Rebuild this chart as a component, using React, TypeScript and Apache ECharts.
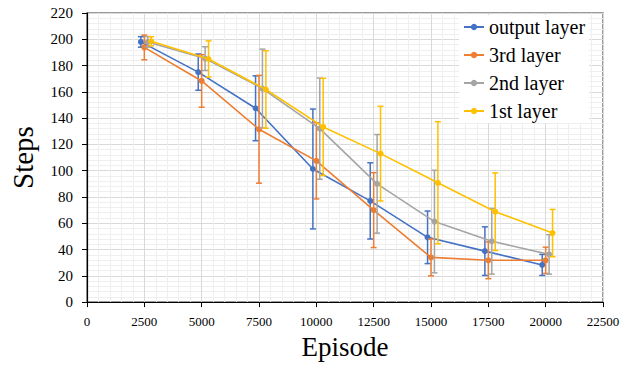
import React, { useEffect, useRef } from "react";
import * as echarts from "echarts";

const seriesNames = ["output layer", "3rd layer", "2nd layer", "1st layer"];
const colors = ["#4472C4", "#ED7D31", "#A5A5A5", "#FFC000"];

const xTicks = [0, 22500, 2500];
const yTicks = [0, 220, 20];

const outputX = [2350, 4850, 7350, 9850, 12350, 14850, 17350, 19850];
const thirdX = [2500, 5000, 7500, 10000, 12500, 15000, 17500, 20000];
const secondX = [2650, 5150, 7650, 10150, 12650, 15150, 17650, 20150];
const firstX = [2800, 5300, 7800, 10300, 12800, 15300, 17800, 20300];

const outputMean = [198, 175, 147.5, 101.3, 77, 49.3, 38.8, 28.3];
const outputErr = [4, 13.8, 24.7, 45.6, 29, 20, 18.5, 8];
const thirdMean = [193.8, 168.3, 131.5, 107.5, 70, 34, 31.8, 31.8];
const thirdErr = [9.4, 20, 41, 29, 28.5, 14, 14, 10];
const secondMean = [198, 185.3, 162.5, 132, 90, 61.3, 46.3, 36.3];
const secondErr = [4, 9, 30, 38.5, 37.5, 39, 25, 15];
const firstMean = [198.5, 185, 161.8, 133.3, 113, 90.8, 68.8, 52.5];
const firstErr = [3.5, 13.8, 29.5, 37, 36, 46.5, 29.5, 18];

const xs = [outputX, thirdX, secondX, firstX];
const means = [outputMean, thirdMean, secondMean, firstMean];
const errs = [outputErr, thirdErr, secondErr, firstErr];

const FONT = "Liberation Serif";

export default function App() {
  const ref = useRef<HTMLDivElement>(null);
  useEffect(() => {
    if (!ref.current) return;
    const chart = echarts.init(ref.current, null, { renderer: "svg" });
    const series: any[] = [];
    seriesNames.forEach((name, i) => {
      const color = colors[i];
      series.push({
        name: name + " err",
        type: "custom",
        z: 2 + i,
        silent: true,
        data: xs[i].map((x, k) => [x, means[i][k] - errs[i][k], means[i][k] + errs[i][k]]),
        encode: { x: 0, y: [1, 2] },
        renderItem: (params: any, api: any) => {
          const x = api.value(0);
          const lo = api.coord([x, api.value(1)]);
          const hi = api.coord([x, api.value(2)]);
          const hw = 3;
          const st = { stroke: color, lineWidth: 1.5 };
          return {
            type: "group",
            children: [
              { type: "line", shape: { x1: hi[0], y1: hi[1], x2: lo[0], y2: lo[1] }, style: st },
              { type: "line", shape: { x1: hi[0] - hw, y1: hi[1], x2: hi[0] + hw, y2: hi[1] }, style: st },
              { type: "line", shape: { x1: lo[0] - hw, y1: lo[1], x2: lo[0] + hw, y2: lo[1] }, style: st },
            ],
          };
        },
      });
      series.push({
        name,
        type: "line",
        z: 2 + i,
        data: xs[i].map((x, k) => [x, means[i][k]]),
        symbol: "circle",
        symbolSize: 6,
        lineStyle: { width: 1.6, color },
        itemStyle: { color },
      });
    });

    chart.setOption({
      animation: false,
      backgroundColor: "#ffffff",
      textStyle: { fontFamily: FONT },
      grid: {
        left: 87,
        right: 34,
        top: 13,
        bottom: 58,
        show: true,
        borderColor: "#7a7a7a",
        borderWidth: 1.5,
      },
      legend: {
        data: seriesNames,
        orient: "vertical",
        left: 459,
        top: 15,
        padding: [2, 4],
        itemGap: 8,
        itemWidth: 20,
        itemHeight: 8,
        backgroundColor: "#ffffff",
        textStyle: { fontFamily: FONT, fontSize: 20, lineHeight: 18, color: "#000" },
      },
      xAxis: {
        type: "value",
        min: xTicks[0],
        max: xTicks[1],
        interval: xTicks[2],
        name: "Episode",
        nameLocation: "middle",
        nameGap: 24,
        nameTextStyle: { fontFamily: FONT, fontSize: 27, color: "#000" },
        axisLine: { show: true, onZero: false, lineStyle: { color: "#000", width: 1.2 } },
        axisTick: { show: true, inside: false, length: 5, lineStyle: { color: "#000" } },
        axisLabel: {
          fontFamily: FONT,
          fontSize: 13,
          color: "#000",
          margin: 13,
          formatter: (v: number) => String(v),
        },
        splitLine: { show: true, lineStyle: { color: "#d9d9d9", width: 1 } },
        minorTick: { show: false, splitNumber: 5 },
        minorSplitLine: { show: true, lineStyle: { color: "#efefef", width: 1 } },
      },
      yAxis: {
        type: "value",
        min: yTicks[0],
        max: yTicks[1],
        interval: yTicks[2],
        name: "Steps",
        nameLocation: "middle",
        nameGap: 50,
        nameRotate: 90,
        nameTextStyle: { fontFamily: FONT, fontSize: 29, color: "#000" },
        axisLine: { show: true, onZero: false, lineStyle: { color: "#000", width: 1.2 } },
        axisTick: { show: true, inside: false, length: 5, lineStyle: { color: "#000" } },
        axisLabel: {
          fontFamily: FONT,
          fontSize: 15,
          color: "#000",
          margin: 14,
          formatter: (v: number) => String(v),
        },
        splitLine: { show: true, lineStyle: { color: "#d9d9d9", width: 1 } },
        minorTick: { show: false, splitNumber: 5 },
        minorSplitLine: { show: true, lineStyle: { color: "#efefef", width: 1 } },
      },
      series,
    });
    return () => chart.dispose();
  }, []);
  return (
    <div
      ref={ref}
      style={{ position: "fixed", left: 0, top: 0, width: 637, height: 365, background: "#fff" }}
    />
  );
}
